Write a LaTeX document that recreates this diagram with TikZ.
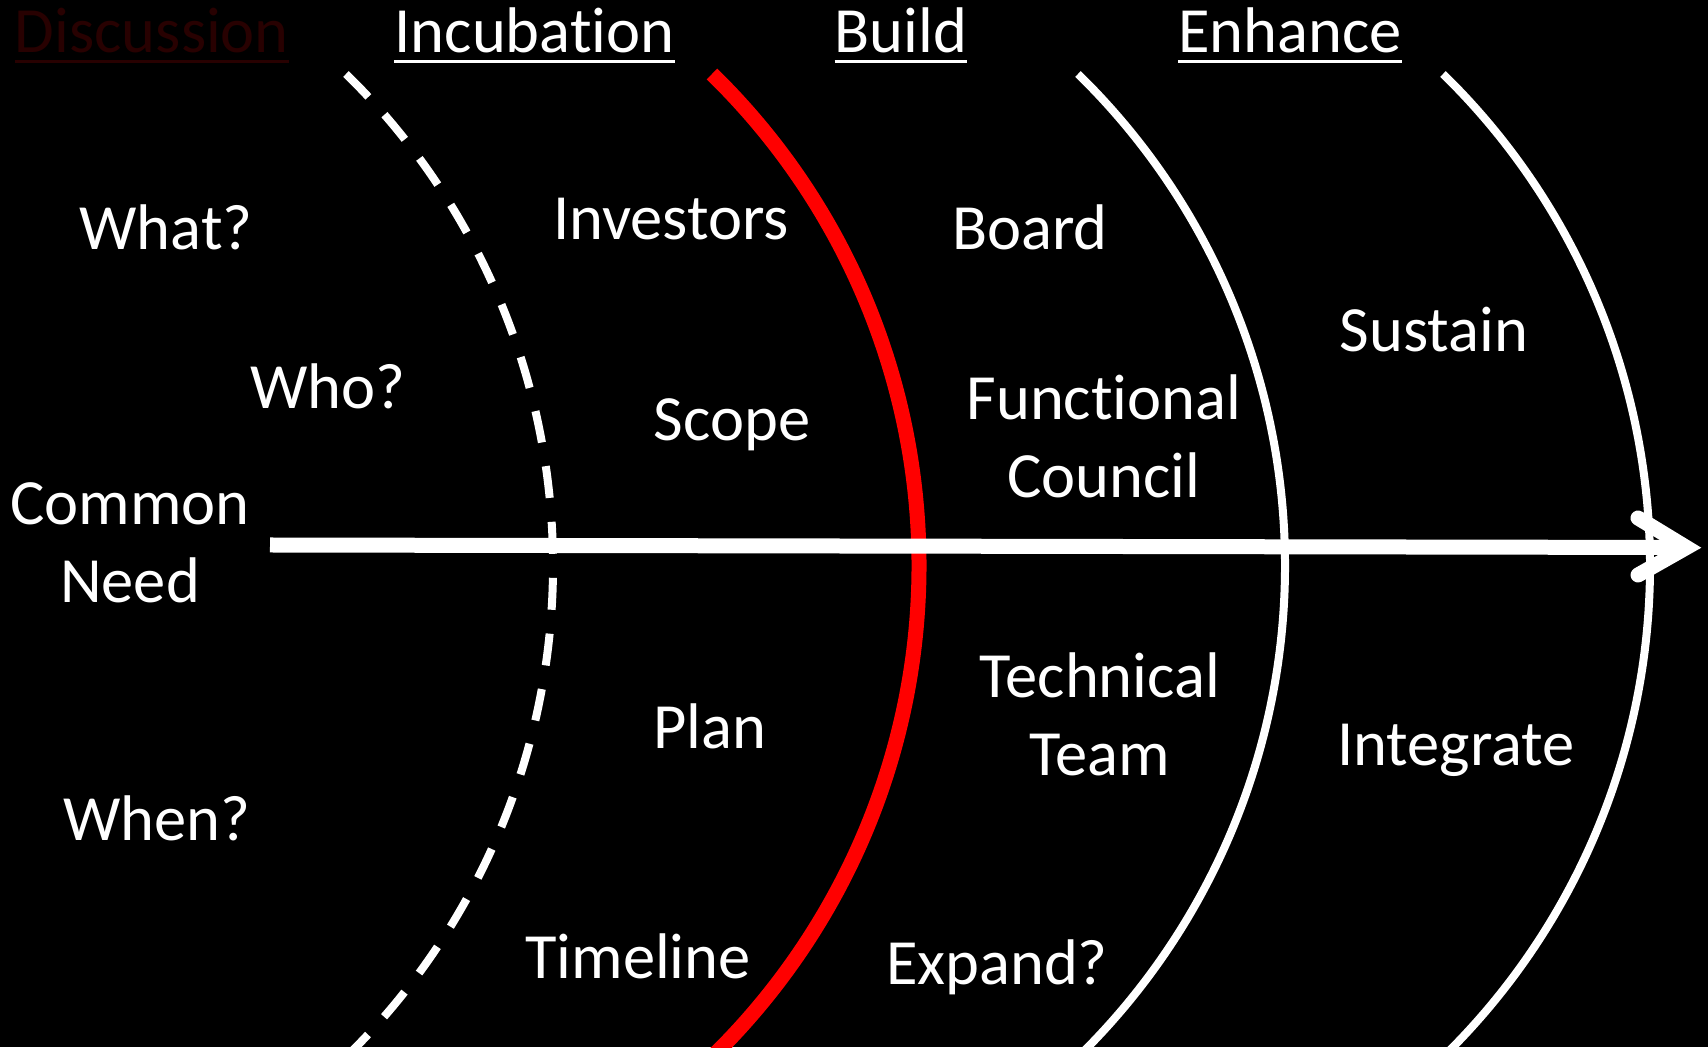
\documentclass[tikz,border=0pt]{standalone}
\usepackage{fontspec}
\setmainfont[Ligatures=NoCommon]{Carlito}
\definecolor{discred}{RGB}{40,1,1}
\definecolor{arcred}{RGB}{255,0,0}
\tikzset{
  lbl/.style={text=white, font=\fontsize{64.5}{78}\selectfont, inner sep=0pt, anchor=base, align=center},
  hdr/.style={lbl},
  uline/.style={line width=3.5pt, white},
  thinarc/.style={line width=8pt, white},
  dasharc/.style={line width=8pt, white, dash pattern=on 32pt off 24pt},
  redarc/.style={line width=15pt, arcred},
  axisline/.style={line width=15pt, white},
  headline/.style={line width=15pt, white, line cap=round, line join=miter},
}
\begin{document}
\begin{tikzpicture}[x=1pt,y=1pt]
\fill[black] (0,0) rectangle (1708,1047);
\useasboundingbox (0,0) rectangle (1708,1047);
\begin{scope}
\clip (0,0) rectangle (1708,1047);
% arcs (circle radius 687, centre Y 481.5)
\draw[dasharc] (346,973) arc[start angle=45.68, end angle=-46, radius=687];
\draw[redarc]  (712,973) arc[start angle=45.68, end angle=-46, radius=687];
\draw[thinarc] (1078,973) arc[start angle=45.68, end angle=-46, radius=687];
\draw[thinarc] (1443,973) arc[start angle=45.68, end angle=-46, radius=687];
\end{scope}
% axis arrow
\coordinate (axisL) at (270,502);
\coordinate (axisR) at (1686.5,499.5);
\draw[axisline] (axisL) -- (axisR);
\draw[headline] ([shift={(-48.5,29.5)}]axisR) -- (axisR) -- ([shift={(-48.5,-27.5)}]axisR);
% headers
\node[hdr, text=discred] (disc) at (152,994) {Discussion};
\node[hdr] (incub) at (534.5,994) {Incubation};
\node[hdr] (build) at (901,994) {Build};
\node[hdr] (enh) at (1290,994) {Enhance};
\draw[uline, discred] ([yshift=-8.5pt]disc.base west) -- ([yshift=-8.5pt]disc.base east);
\draw[uline] ([yshift=-8.5pt]incub.base west) -- ([yshift=-8.5pt]incub.base east);
\draw[uline] ([yshift=-8.5pt]build.base west) -- ([yshift=-8.5pt]build.base east);
\draw[uline] ([yshift=-8.5pt]enh.base west) -- ([yshift=-8.5pt]enh.base east);
% discussion column
\node[lbl] (what) at (166,797) {What?};
\node[lbl] (who) at (328,638) {Who?};
\node[lbl] (common) at (130,444) {Common\\Need};
\node[lbl] (when) at (157,206) {When?};
% incubation column
\node[lbl] (investors) at (671,807) {Investors};
\node[lbl] (scope) at (732,606) {Scope};
\node[lbl] (plan) at (710,298) {Plan};
\node[lbl] (timeline) at (638,69) {Timeline};
% build column
\node[lbl] (board) at (1030,797) {Board};
\node[lbl] (func) at (1104,549) {Functional\\Council};
\node[lbl] (tech) at (1100,271) {Technical\\Team};
\node[lbl] (expand) at (997,63) {Expand?};
% enhance column
\node[lbl] (sustain) at (1434,695) {Sustain};
\node[lbl] (integrate) at (1456,281) {Integrate};
\end{tikzpicture}
\end{document}
